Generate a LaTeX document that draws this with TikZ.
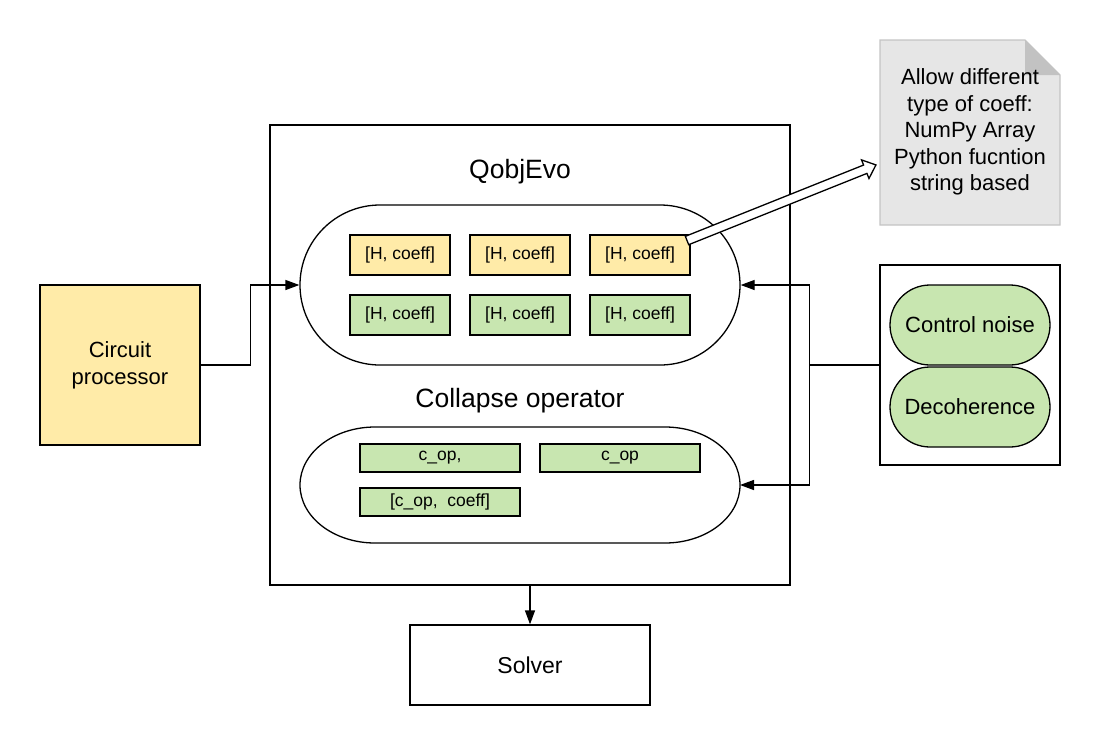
\documentclass[tikz,border=0pt]{standalone}
\usepackage{fontspec}
\setmainfont{Liberation Sans}
\usetikzlibrary{arrows.meta,calc}
\definecolor{ylw}{HTML}{FFEBA8}
\definecolor{grn}{HTML}{C8E6B0}
\definecolor{notefill}{HTML}{E6E6E6}
\definecolor{noteline}{HTML}{C4C4C4}
\definecolor{foldc}{HTML}{C2C2C2}
\begin{document}
\begin{tikzpicture}[x=1pt,y=-1pt,line width=1.3pt,
  hbox/.style={draw,inner sep=0pt,minimum width=100pt,minimum height=40pt,font=\fontsize{17.5}{20}\selectfont},
  cbox/.style={draw,fill=grn,inner sep=0pt,minimum width=160pt,minimum height=28pt,font=\fontsize{17.5}{20}\selectfont},
  title/.style={font=\fontsize{26.5}{30}\selectfont},
  mid/.style={font=\fontsize{22}{27}\selectfont,align=center},
  arr/.style={-{Triangle[length=14pt,width=10pt]}}]
\useasboundingbox (0,0) rectangle (1100,745);
% main box
\node[draw,minimum width=520pt,minimum height=460pt,inner sep=0pt] (main) at (530,355) {};
\node[title] (qtitle) at (520,172) {QobjEvo};
\node[title] (ctitle) at (520,401) {Collapse operator};
% top stadium
\node[draw,rounded corners=80pt,minimum width=440pt,minimum height=160pt,inner sep=0pt] (top) at (520,285) {};
\node[hbox,fill=ylw] (y1) at (400,255) {[H, coeff]};
\node[hbox,fill=ylw] (y2) at (520,255) {[H, coeff]};
\node[hbox,fill=ylw] (y3) at (640,255) {[H, coeff]};
\node[hbox,fill=grn] (g1) at (400,315) {[H, coeff]};
\node[hbox,fill=grn] (g2) at (520,315) {[H, coeff]};
\node[hbox,fill=grn] (g3) at (640,315) {[H, coeff]};
% bottom stadium
\node[minimum width=440pt,minimum height=116pt,inner sep=0pt,outer sep=0pt] (bot) at (520,485) {};
\draw[line join=round] ([xshift=75pt]bot.north west) -- ([xshift=-75pt]bot.north east)
  arc[start angle=90,end angle=-90,x radius=75pt,y radius=58pt]
  -- ([xshift=75pt]bot.south west)
  arc[start angle=270,end angle=90,x radius=75pt,y radius=58pt] -- cycle;
\node[cbox] (c1) at (440,458) {c\_op,};
\node[cbox] (c2) at (620,458) {c\_op};
\node[cbox] (c3) at (440,502) {[c\_op,\ \ coeff]};
% circuit processor
\node[draw,fill=ylw,minimum width=160pt,minimum height=160pt,inner sep=0pt,mid] (cp) at (120,365) {Circuit\\processor};
% noise
\node[draw,minimum width=180pt,minimum height=200pt,inner sep=0pt] (nf) at (970,365) {};
\node[draw,fill=grn,rounded corners=40pt,minimum width=160pt,minimum height=80pt,inner sep=0pt,mid] (cn) at (970,325) {Control noise};
\node[draw,fill=grn,rounded corners=40pt,minimum width=160pt,minimum height=80pt,inner sep=0pt,mid] (dc) at (970,407) {Decoherence};
% solver
\node[draw,minimum width=240pt,minimum height=80pt,inner sep=0pt,font=\fontsize{23}{27}\selectfont] (solver) at (530,665) {Solver};
% note
\draw[noteline,fill=notefill] (880,40) -- (1025,40) -- (1060,75) -- (1060,225) -- (880,225) -- cycle;
\fill[foldc] (1025,40) -- (1060,75) -- (1025,75) -- cycle;
\node[font=\fontsize{22}{26.5}\selectfont,align=center] (note) at (970,132) {Allow different\\type of coeff:\\NumPy Array\\Python fucntion\\string based};
% connectors
\draw[arr] (cp.east) -- ++(50,0) |- (top.west);
\draw (nf.west) -- ++(-70,0) coordinate (jn);
\draw[arr] (jn) |- (top.east);
\draw[arr] (jn) |- (bot.east);
\draw[arr] (main.south) -- (solver.north);
% hollow arrow
\coordinate (hs) at (687,240.5);
\coordinate (he) at (876,165);
\begin{scope}[shift={(hs)},rotate=21.8]
\draw[fill=white,line join=miter] (0,4.5) -- (192,4.5) -- (192,10) -- (203.5,0) -- (192,-10) -- (192,-4.5) -- (0,-4.5) -- cycle;
\end{scope}
\end{tikzpicture}
\end{document}
